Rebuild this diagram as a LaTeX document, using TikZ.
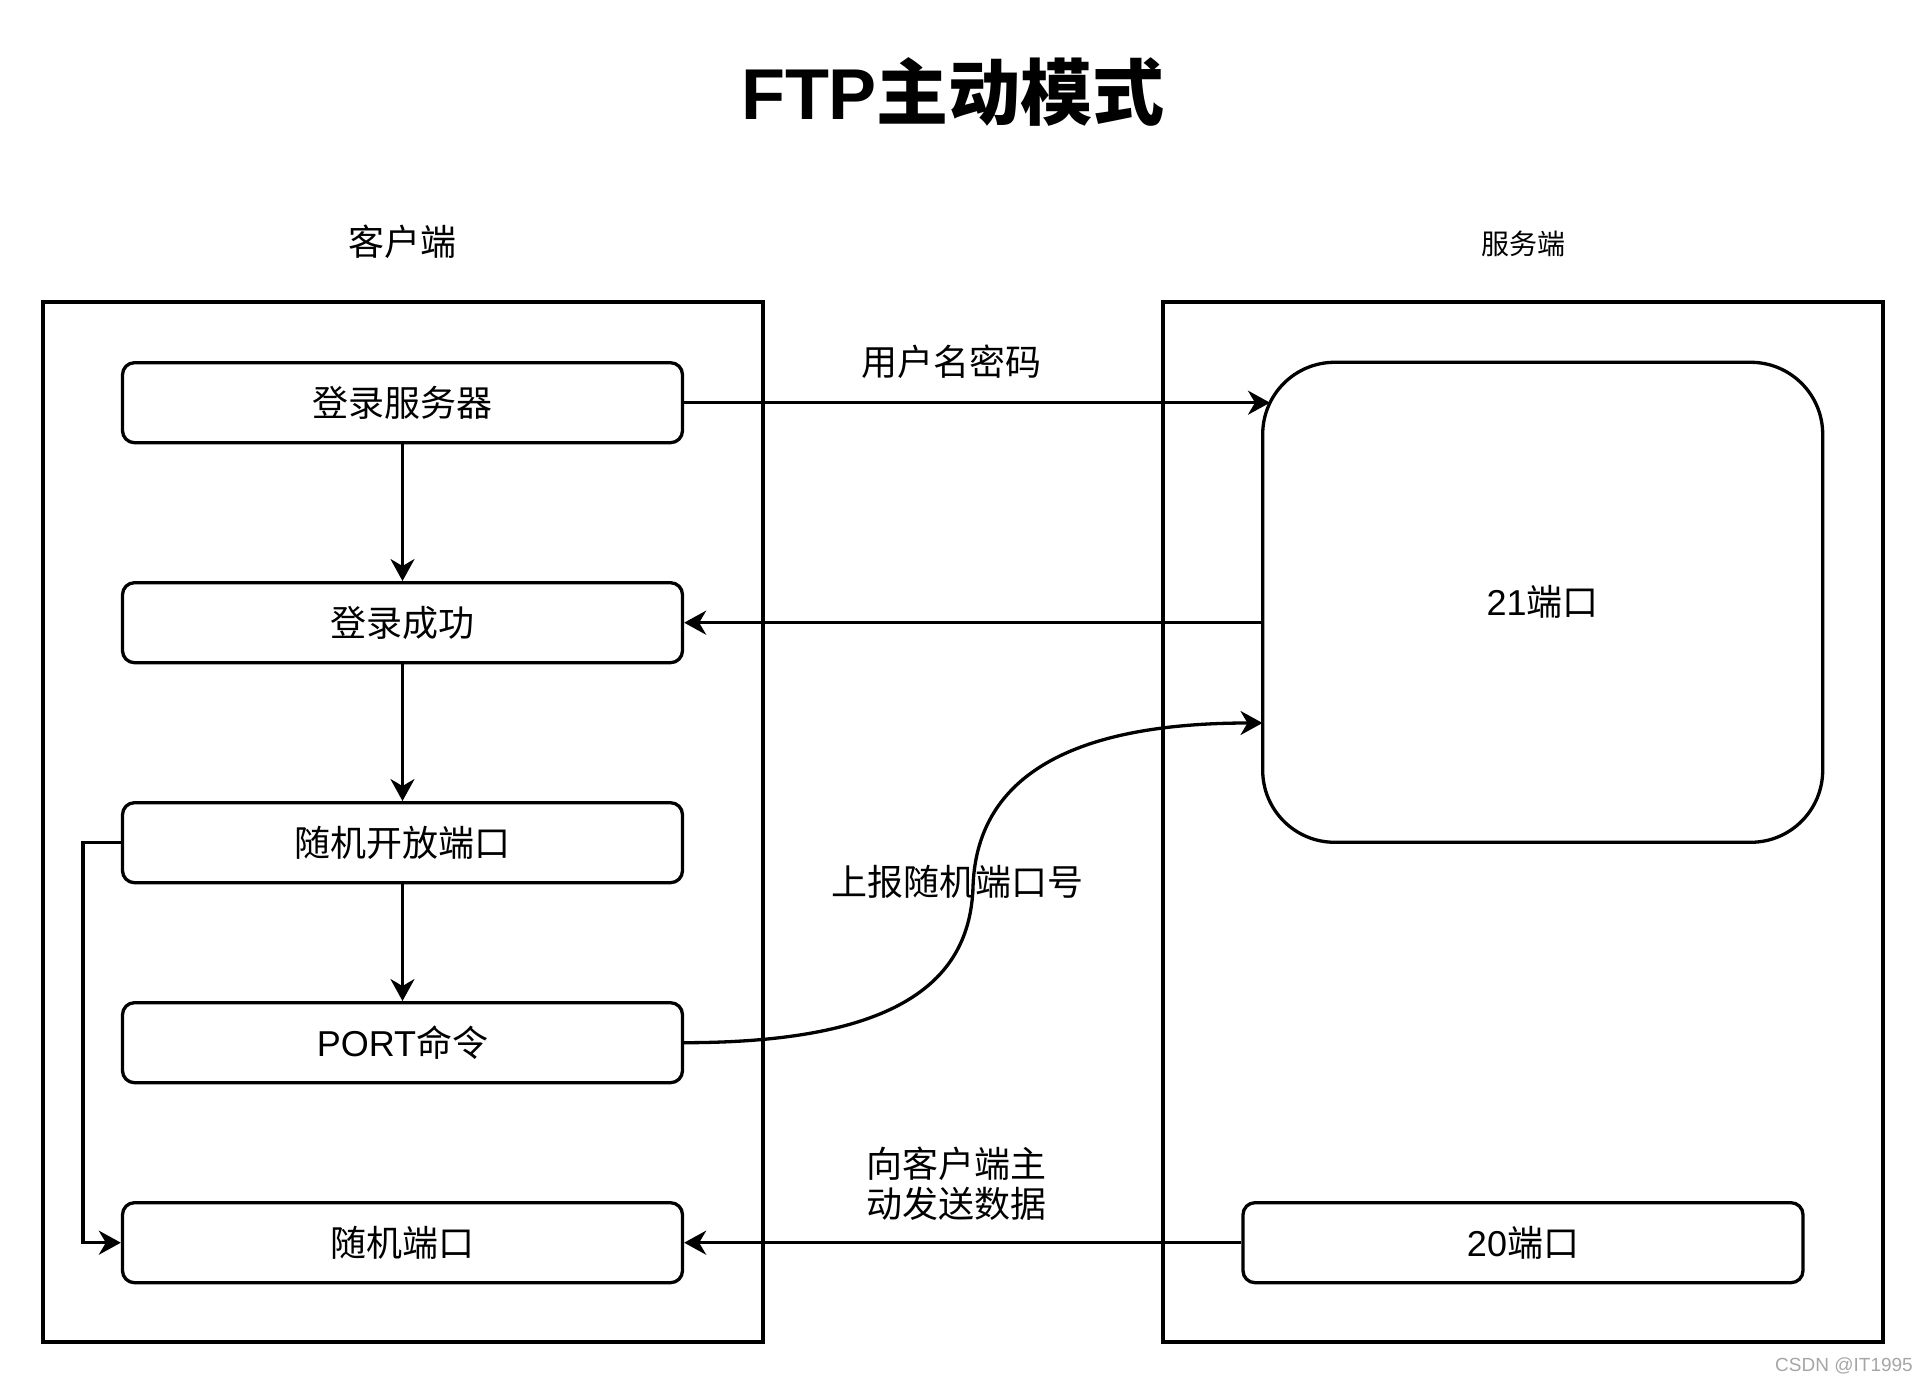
\documentclass[tikz,border=0pt]{standalone}
\usepackage{fontspec}
\setmainfont{Liberation Sans}
\newfontfamily\cjk{Noto Sans CJK SC}
\usetikzlibrary{arrows.meta}
\begin{document}
\begin{tikzpicture}[x=0.5pt,y=-0.5pt,
  line width=1.65pt,
  bigbox/.style={draw, minimum width=360pt, minimum height=520pt, inner sep=0pt},
  stepbox/.style={draw, rounded corners=6pt, minimum width=280pt, minimum height=40pt, inner sep=0pt, font=\fontsize{18pt}{22pt}\selectfont},
  lbl/.style={font=\fontsize{18pt}{20pt}\selectfont, inner sep=0pt, align=center},
  arr/.style={-{Stealth[length=11pt,width=12pt,inset=3.5pt]}}
]
\useasboundingbox (0,0) rectangle (1924,1384);

% title
\node[inner sep=0pt, font=\fontsize{36pt}{40pt}\selectfont\bfseries] (title) at (953,92) {FTP{\cjk\bfseries 主动模式}};

% headers
\node[lbl] (clientlbl) at (402,242) {\cjk 客户端};
\node[inner sep=0pt, font=\fontsize{14pt}{16pt}\selectfont] (serverlbl) at (1523,244) {\cjk 服务端};

% containers
\node[bigbox] (client) at (403,822) {};
\node[bigbox] (server) at (1523,822) {};

% client steps
\node[stepbox] (login) at (402.5,402.7) {\cjk 登录服务器};
\node[stepbox] (success) at (402.5,622.7) {\cjk 登录成功};
\node[stepbox] (open) at (402.5,842.7) {\cjk 随机开放端口};
\node[stepbox] (portcmd) at (402.5,1042.7) {PORT{\cjk 命令}};
\node[stepbox] (rport) at (402.5,1242.7) {\cjk 随机端口};

% server
\node[draw, rounded corners=36pt, minimum width=280pt, minimum height=240pt, inner sep=0pt,
      font=\fontsize{18pt}{22pt}\selectfont] (port21) at (1542.7,602.3) {21{\cjk 端口}};
\node[stepbox] (port20) at (1523,1242.7) {20{\cjk 端口}};

% helper coordinates
\coordinate (p21top) at (1270,402.7);
\coordinate (p21mid) at (1262.5,622.7);
\coordinate (p21low) at (1262.5,723);
\coordinate (elbow) at (83,842.7);
\coordinate (inflect) at (973,887);

% connectors
\draw[arr] (login.east) -- (p21top);
\draw[arr] (login.south) -- (success.north);
\draw[arr] (p21mid) -- (success.east);
\draw[arr] (success.south) -- (open.north);
\draw[arr] (open.south) -- (portcmd.north);
\draw[arr] (open.west) -- (elbow) |- (rport.west);
\draw[arr] (portcmd.east) .. controls (900,1042.7) and (970,980) .. (inflect)
   .. controls (976,790) and (1050,723) .. (p21low);
\draw[arr] (port20.west) -- (rport.east);

% edge labels
\node[lbl] (l1) at (951,362) {\cjk 用户名密码};
\node[lbl] (l2) at (957,882) {\cjk 上报随机端口号};
\node[lbl] (l3) at (956,1184) {\cjk 向客户端主\\\cjk 动发送数据};

% watermark
\node[inner sep=0pt, text=black!35, font=\fontsize{9.5pt}{11pt}\selectfont] (wm) at (1844,1366) {CSDN @IT1995};
\end{tikzpicture}
\end{document}
